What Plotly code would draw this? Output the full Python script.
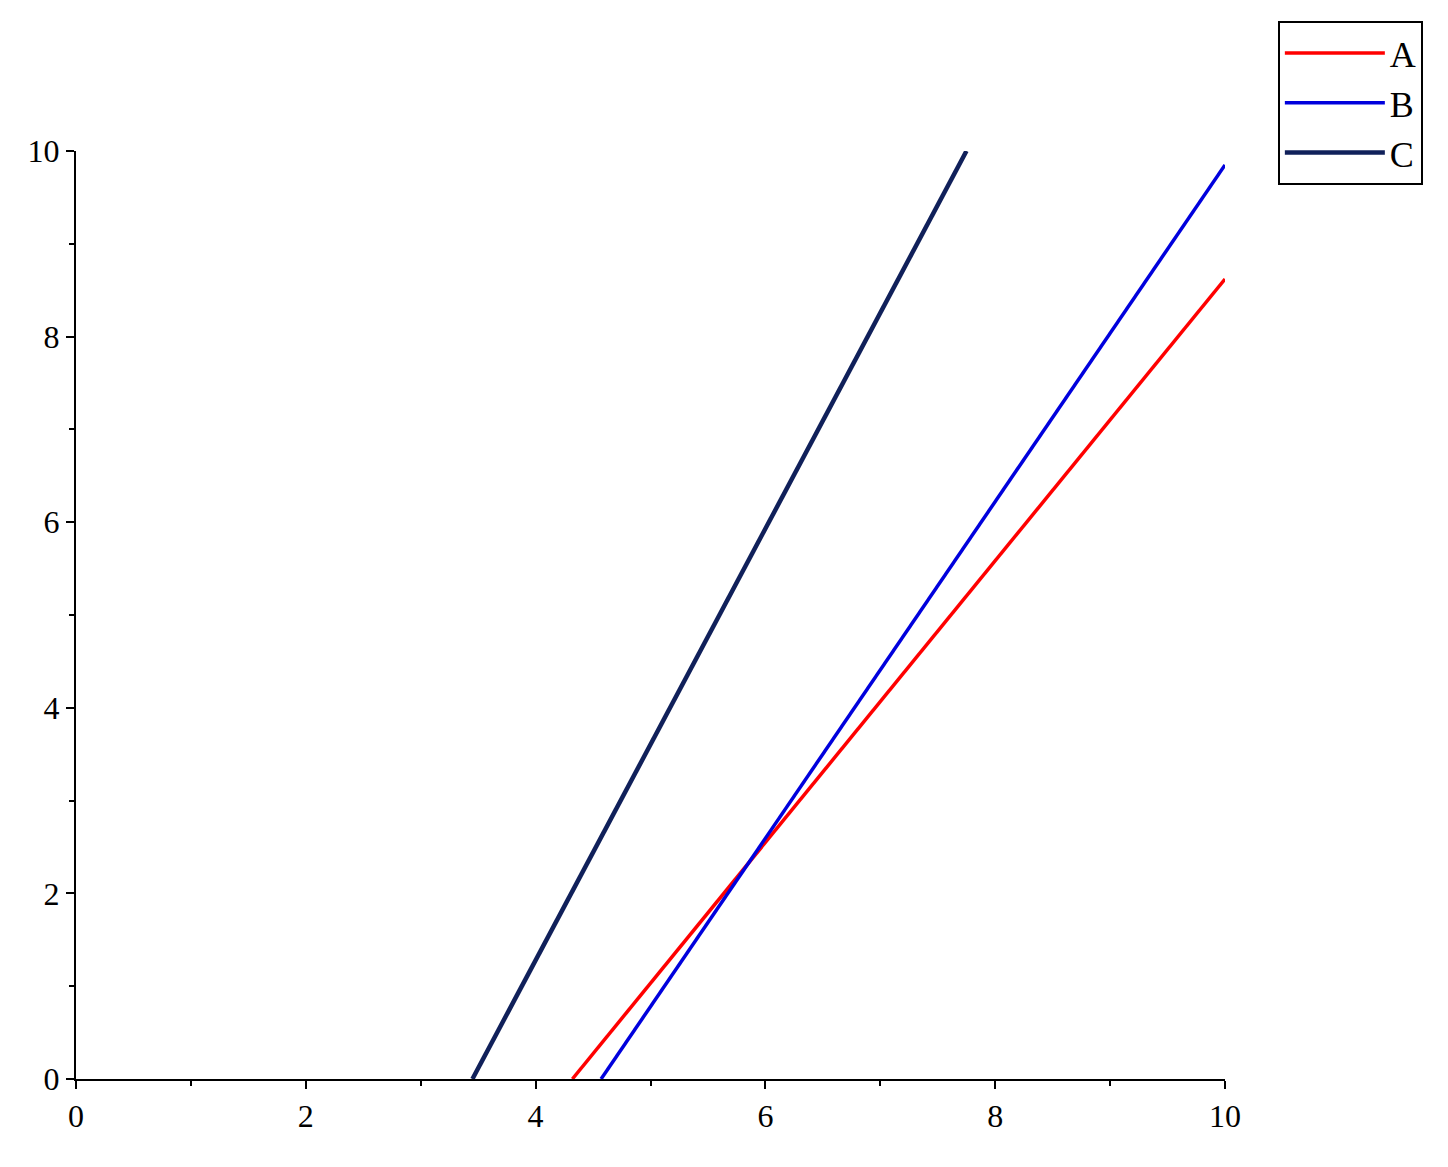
import plotly.graph_objects as go

names = ["A", "B", "C"]
xs = [[4.32, 10.0], [4.57, 10.0], [3.45, 7.75]]
ys = [[0.0, 8.62], [0.0, 9.85], [0.0, 10.0]]
colors = ["#ff0000", "#0000dd", "#10205a"]
widths = [3.5, 3.5, 4.5]

fig = go.Figure()
for n, x, y, c, w in zip(names, xs, ys, colors, widths):
    fig.add_trace(go.Scatter(x=x, y=y, mode="lines", name=n, line=dict(color=c, width=w)))

ax = dict(range=[0, 10], showgrid=False, zeroline=False, showline=True, linecolor="black",
          linewidth=2, ticks="outside", ticklen=8, tickwidth=2, tickcolor="black", dtick=2,
          tickfont=dict(family="Liberation Serif", size=32, color="black"),
          minor=dict(ticks="outside", ticklen=5, tickwidth=2, tickcolor="black", dtick=1))
fig.update_xaxes(**ax)
fig.update_yaxes(**ax)
fig.update_layout(
    width=1448, height=1167, plot_bgcolor="white", paper_bgcolor="white",
    margin=dict(l=68, r=231, t=143, b=96),
    legend=dict(x=1.046, y=1.14, xanchor="left", yanchor="top", bordercolor="black", borderwidth=2,
                font=dict(family="Liberation Serif", size=36, color="black"),
                itemwidth=100, bgcolor="white"),
)
fig.write_html("out.html")
